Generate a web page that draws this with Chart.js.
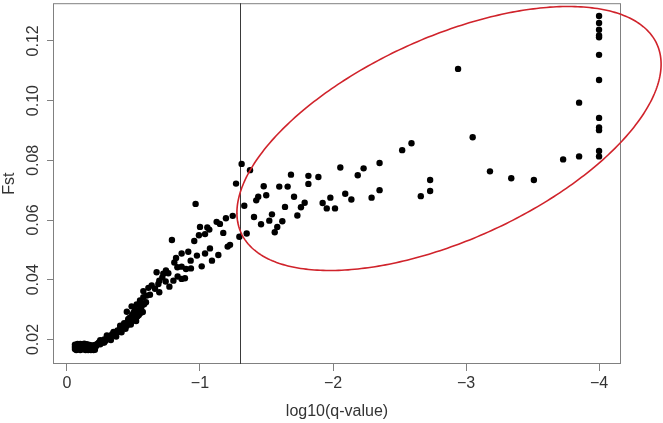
<!DOCTYPE html>
<html>
<head>
<meta charset="utf-8">
<script src="https://cdn.jsdelivr.net/npm/chart.js@4.4.1/dist/chart.umd.min.js"></script>
<style>
  html, body { margin: 0; padding: 0; background: #fff; }
  #wrap { width: 663px; height: 423px; }
</style>
</head>
<body>
<div id="wrap"><canvas id="chart"></canvas></div>
<script>
// log10(q-value) vs Fst, points as [x, y]
const baseCluster = [
  [-0.06,0.0168],[-0.06,0.0176],[-0.06,0.0183],[-0.07,0.0165],[-0.07,0.0172],[-0.07,0.0180],
  [-0.08,0.0185],[-0.08,0.0168],[-0.09,0.0176],[-0.09,0.0183],[-0.10,0.0165],[-0.10,0.0171],
  [-0.10,0.0185],[-0.11,0.0178],[-0.12,0.0167],[-0.12,0.0183],[-0.13,0.0173],[-0.13,0.0186],
  [-0.14,0.0165],[-0.14,0.0179],[-0.15,0.0170],[-0.15,0.0184],[-0.16,0.0165],[-0.16,0.0176],
  [-0.17,0.0182],[-0.17,0.0169],[-0.18,0.0165],[-0.18,0.0174],[-0.19,0.0167],[-0.19,0.0180],
  [-0.20,0.0165],[-0.20,0.0172],[-0.21,0.0166],[-0.21,0.0182]
];
const risingBand = [
  [-0.22,0.0178],[-0.23,0.0186],[-0.24,0.0190],[-0.25,0.0184],[-0.26,0.0195],[-0.27,0.0190],
  [-0.28,0.0200],[-0.29,0.0196],[-0.30,0.0206],[-0.31,0.0203],[-0.32,0.0212],[-0.33,0.0208],
  [-0.34,0.0218],[-0.35,0.0214],[-0.36,0.0224],[-0.37,0.0220],[-0.38,0.0230],[-0.39,0.0226],
  [-0.40,0.0237],[-0.41,0.0233],[-0.42,0.0243],[-0.43,0.0240],[-0.44,0.0250],[-0.45,0.0246],
  [-0.46,0.0258],[-0.47,0.0253],[-0.48,0.0266],[-0.49,0.0262],[-0.50,0.0275],[-0.51,0.0270],
  [-0.52,0.0287],[-0.50,0.0290],[-0.53,0.0295],[-0.55,0.0300],[-0.54,0.0282],[-0.56,0.0310],
  [-0.58,0.0318],[-0.57,0.0292],[-0.49,0.0282],[-0.47,0.0272],[-0.511,0.0303],[-0.56,0.0322],
  [-0.60,0.0347],
  [-0.25,0.0198],[-0.28,0.0190],[-0.30,0.0214],[-0.33,0.0198],[-0.35,0.0225],[-0.37,0.0210],
  [-0.40,0.0246],[-0.41,0.0224],[-0.43,0.0255],[-0.44,0.0236],[-0.46,0.0268],[-0.48,0.0250],
  [-0.45,0.0293],[-0.52,0.0262],[-0.53,0.0278],[-0.55,0.0288]
];
const spreadBelowCutoff = [
  [-0.486,0.0311],[-0.524,0.0317],[-0.594,0.0325],[-0.549,0.0331],[-0.574,0.0342],[-0.624,0.0350],
  [-0.574,0.0362],[-0.694,0.0358],[-0.662,0.0370],[-0.612,0.0373],[-0.637,0.0381],[-0.770,0.0377],
  [-0.687,0.0386],[-0.742,0.0394],[-0.800,0.0397],[-0.694,0.0397],[-0.717,0.0408],[-0.862,0.0403],
  [-0.887,0.0405],[-0.832,0.0411],[-0.724,0.0420],[-0.762,0.0422],[-0.744,0.0431],[-0.674,0.0425],
  [-0.830,0.0442],[-0.932,0.0438],[-0.895,0.0436],[-0.862,0.0444],[-1.013,0.0445],[-0.807,0.0458],
  [-0.820,0.0473],[-1.090,0.0464],[-0.930,0.0464],[-0.977,0.0481],[-1.138,0.0483],[-0.862,0.0488],
  [-0.912,0.0494],[-1.038,0.0488],[-1.075,0.0505],[-1.208,0.0511],[-1.226,0.0517],[-0.957,0.0530],
  [-1.175,0.0557],[-0.992,0.0549],[-1.038,0.0553],[-1.000,0.0577],[-1.055,0.0575],[-1.070,0.0568],
  [-1.125,0.0594],[-1.150,0.0587],[-1.195,0.0606],[-1.246,0.0614],[-0.789,0.0533],[-0.967,0.0654],
  [-1.271,0.0722],[-1.296,0.0544]
];
const aboveCutoff = [
  [-1.313,0.0788],[-1.376,0.0767],[-1.684,0.0752],[-1.815,0.0748],[-1.890,0.0744],[-2.055,0.0776],
  [-2.186,0.0750],[-1.479,0.0713],[-1.596,0.0712],[-1.659,0.0712],[-1.815,0.0721],[-1.498,0.0683],
  [-1.438,0.0678],[-1.423,0.0666],[-1.707,0.0678],[-1.787,0.0658],[-1.759,0.0643],[-1.639,0.0644],
  [-1.333,0.0648],[-2.092,0.0688],[-2.138,0.0669],[-1.922,0.0657],[-1.980,0.0675],[-1.953,0.0639],
  [-2.015,0.0639],[-1.406,0.0610],[-1.541,0.0619],[-1.521,0.0598],[-1.459,0.0586],[-1.619,0.0596],
  [-1.732,0.0615],[-1.581,0.0577],[-1.562,0.0559],[-1.351,0.0555],
  [-2.350,0.0791],[-2.230,0.0773],[-2.350,0.0700],[-2.290,0.0675],[-2.590,0.0857],[-2.520,0.0834],
  [-2.730,0.0734],[-2.730,0.0697],[-2.660,0.0680],[-2.940,0.1106],[-3.050,0.0877],[-3.180,0.0763],
  [-3.340,0.0740],[-3.510,0.0734],[-3.730,0.0803],[-3.850,0.0993],[-3.850,0.0813]
];
const minQColumn = [
  [-4,0.1283],[-4,0.1260],[-4,0.1237],[-4,0.1218],[-4,0.1212],[-4,0.1153],
  [-4,0.1069],[-4,0.0942],[-4,0.0910],[-4,0.0901],[-4,0.0831],[-4,0.0813]
];

const xTicks = [0, -1, -2, -3, -4];
const yTicks = [0.02, 0.04, 0.06, 0.08, 0.10, 0.12];
const qCutoff = -1.301; // log10(0.05)
// highlight ellipse in data units: centre, half major axis, half minor axis
const ellipseCenter = [-2.872, 0.0873];
const ellipseMajor = [-1.562, 0.0317];
const ellipseMinor = [-0.320, -0.0308];

const allPoints = [...baseCluster, ...risingBand, ...spreadBelowCutoff, ...aboveCutoff, ...minQColumn]
  .map(p => ({ x: p[0], y: p[1] }));

const labelFont = { family: '"Liberation Sans", Arial, sans-serif', size: 16 };

const decorations = {
  id: 'decorations',
  beforeDatasetsDraw(chart) {
    const { ctx, chartArea: a, scales } = chart;
    ctx.save();
    // box
    ctx.strokeStyle = '#808080';
    ctx.lineWidth = 1;
    ctx.strokeRect(a.left + 0.5, a.top + 0.5, a.right - a.left - 1, a.bottom - a.top - 1);
    // cutoff line
    const cx = Math.round(scales.x.getPixelForValue(qCutoff)) + 0.5;
    ctx.strokeStyle = '#3a3a3a';
    ctx.beginPath();
    ctx.moveTo(cx, a.top);
    ctx.lineTo(cx, a.bottom);
    ctx.stroke();
    // y tick labels, rotated like R's default
    ctx.fillStyle = '#333';
    ctx.font = labelFont.size + 'px ' + labelFont.family;
    ctx.textAlign = 'center';
    ctx.textBaseline = 'middle';
    yTicks.forEach(v => {
      const py = scales.y.getPixelForValue(v);
      ctx.save();
      ctx.translate(33.5, py);
      ctx.rotate(-Math.PI / 2);
      ctx.fillText(v.toFixed(2), 0, 0);
      ctx.restore();
    });
    ctx.restore();
  },
  afterDatasetsDraw(chart) {
    const { ctx, scales } = chart;
    ctx.save();
    ctx.strokeStyle = '#d0232b';
    ctx.lineWidth = 1.6;
    ctx.beginPath();
    for (let i = 0; i <= 360; i++) {
      const t = i * Math.PI / 180;
      const vx = ellipseCenter[0] + ellipseMajor[0] * Math.cos(t) + ellipseMinor[0] * Math.sin(t);
      const vy = ellipseCenter[1] + ellipseMajor[1] * Math.cos(t) + ellipseMinor[1] * Math.sin(t);
      const px = scales.x.getPixelForValue(vx);
      const py = scales.y.getPixelForValue(vy);
      if (i === 0) ctx.moveTo(px, py); else ctx.lineTo(px, py);
    }
    ctx.closePath();
    ctx.stroke();
    ctx.restore();
  }
};

new Chart(document.getElementById('chart'), {
  type: 'scatter',
  data: {
    datasets: [{
      data: allPoints,
      backgroundColor: '#000',
      borderWidth: 0,
      pointRadius: 3.2,
      pointHoverRadius: 3.2,
    }]
  },
  options: {
    animation: false,
    responsive: true,
    maintainAspectRatio: false,
    layout: { padding: { top: 1, right: 42, left: 0, bottom: 0 } },
    plugins: { legend: { display: false }, tooltip: { enabled: false } },
    scales: {
      x: {
        type: 'linear',
        reverse: true,
        min: -4.165,
        max: 0.105,
        afterBuildTicks: s => { s.ticks = xTicks.map(v => ({ value: v })); },
        afterFit: s => { s.height = 59; },
        grid: { drawOnChartArea: false, drawTicks: true, tickLength: 7, color: '#808080' },
        border: { display: false },
        ticks: {
          color: '#333',
          font: labelFont,
          padding: 3,
          maxRotation: 0,
          callback: v => (v === 0 ? '0' : '\u2212' + Math.abs(v))
        },
        title: {
          display: true,
          text: 'log10(q-value)',
          color: '#333',
          font: labelFont,
          padding: { top: 0, bottom: 2 }
        }
      },
      y: {
        type: 'linear',
        min: 0.0118,
        max: 0.1326,
        afterBuildTicks: s => { s.ticks = yTicks.map(v => ({ value: v })); },
        afterFit: s => { s.width = 53; },
        grid: { drawOnChartArea: false, drawTicks: true, tickLength: 6, color: '#808080' },
        border: { display: false },
        ticks: { display: false },
        title: {
          display: true,
          text: 'Fst',
          color: '#333',
          font: labelFont,
          padding: 0
        }
      }
    }
  },
  plugins: [decorations]
});
</script>
</body>
</html>
